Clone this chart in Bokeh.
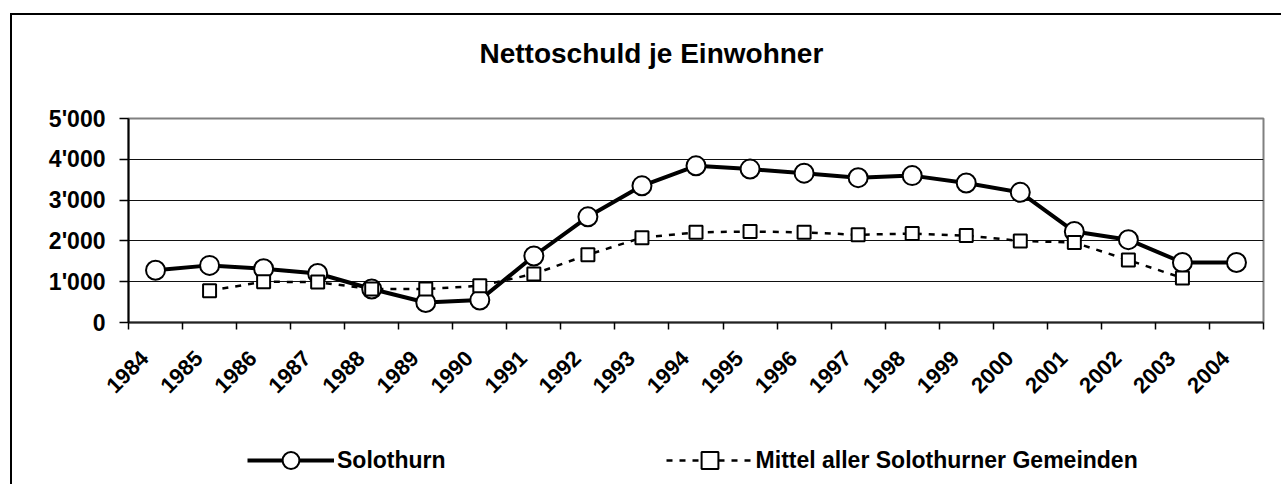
import math
from bokeh.plotting import figure
from bokeh.layouts import column
from bokeh.models import FixedTicker, Legend, LegendItem, Range1d, ColumnDataSource, Title
from bokeh.embed import file_html
from bokeh.resources import INLINE

# ---- data ----
years = ["1984", "1985", "1986", "1987", "1988", "1989", "1990", "1991", "1992", "1993", "1994",
         "1995", "1996", "1997", "1998", "1999", "2000", "2001", "2002", "2003", "2004"]
solothurn = [1280, 1400, 1320, 1200, 820, 490, 550, 1630, 2590, 3350, 3840,
             3760, 3660, 3550, 3600, 3420, 3190, 2230, 2030, 1470, 1470]
mittel = [float("nan"), 780, 1000, 990, 820, 820, 900, 1190, 1660, 2080, 2210,
          2230, 2210, 2150, 2180, 2130, 2000, 1960, 1530, 1090, float("nan")]
y_ticks = [0, 1000, 2000, 3000, 4000, 5000]
y_tick_labels = ["0", "1'000", "2'000", "3'000", "4'000", "5'000"]
title_text = "Nettoschuld je Einwohner"
series_names = ["Solothurn", "Mittel aller Solothurner Gemeinden"]

FONT = "Liberation Sans"
n = len(years)
xs = [i + 0.5 for i in range(n)]
label_pos = [i + 0.3 for i in range(n)]

src = ColumnDataSource(dict(x=xs, s=solothurn, m=mittel))

W = 1269
p = figure(width=W, height=395, output_backend="svg", toolbar_location=None,
           x_range=Range1d(0, n), y_range=Range1d(0, 5000),
           min_border_left=116, min_border_right=18, min_border_top=103, min_border_bottom=88)

p.background_fill_color = "white"
p.border_fill_color = "white"
p.outline_line_color = "#808080"
p.outline_line_width = 2

# title (spacer title sits between the frame and the main title)
spacer = Title(text=" ", text_font=FONT, text_font_size="28px", standoff=12)
main_title = Title(text=title_text, text_font=FONT, text_font_size="28px",
                   text_font_style="bold", text_color="black", align="left", offset=351,
                   standoff=10)
p.add_layout(spacer, "above")
p.add_layout(main_title, "above")

# y axis
ya = p.yaxis[0]
ya.ticker = FixedTicker(ticks=y_ticks)
ya.major_label_overrides = dict(zip(y_ticks, y_tick_labels))
ya.major_tick_out = 9
ya.major_tick_in = 0
ya.minor_tick_out = 0
ya.minor_tick_in = 0
ya.major_tick_line_color = "black"
ya.major_tick_line_width = 1.5
ya.axis_line_color = "black"
ya.axis_line_width = 2
ya.major_label_standoff = 14
ya.major_label_text_font = FONT
ya.major_label_text_font_size = "23px"
ya.major_label_text_font_style = "bold"
ya.major_label_text_color = "black"

# x axis
xa = p.xaxis[0]
xa.ticker = FixedTicker(ticks=label_pos, minor_ticks=list(range(n + 1)))
xa.major_label_overrides = dict(zip(label_pos, years))
xa.major_tick_line_color = None
xa.major_tick_out = 0
xa.major_tick_in = 0
xa.minor_tick_out = 7
xa.minor_tick_in = 0
xa.minor_tick_line_color = "black"
xa.minor_tick_line_width = 1.5
xa.axis_line_color = "#222222"
xa.axis_line_width = 2
xa.major_label_orientation = math.pi / 4
xa.major_label_standoff = 25
xa.major_label_text_font = FONT
xa.major_label_text_font_size = "22px"
xa.major_label_text_font_style = "bold"
xa.major_label_text_color = "black"

p.xgrid.visible = False
p.ygrid.grid_line_color = "#111111"
p.ygrid.grid_line_width = 1

line_main = dict(line_color="black", line_width=4)
line_mean = dict(line_color="black", line_width=2.5, line_dash="6 7")
mark_main = dict(marker="circle", size=19, fill_color="white", line_color="black", line_width=2)
mark_mean = dict(marker="square", size=13, fill_color="white", line_color="black", line_width=2)

# series
p.line("x", "s", source=src, **line_main)
p.line("x", "m", source=src, **line_mean)
p.scatter("x", "s", source=src, **mark_main)
p.scatter("x", "m", source=src, **mark_mean)

# legend strip below the chart (same series, legend only; data lie outside its view)
q = figure(width=W, height=74, output_backend="svg", toolbar_location=None,
           x_range=Range1d(-10, -9), y_range=Range1d(-10, -9),
           x_axis_type=None, y_axis_type=None,
           min_border_left=0, min_border_right=0, min_border_top=0, min_border_bottom=0)
q.outline_line_color = None
q.xgrid.visible = False
q.ygrid.visible = False
q.background_fill_color = "white"
q.border_fill_color = "white"
ql1 = q.line("x", "s", source=src, **line_main)
qs1 = q.scatter("x", "s", source=src, **mark_main)
ql2 = q.line("x", "m", source=src, **line_mean)
qs2 = q.scatter("x", "m", source=src, **mark_mean)

legend = Legend(items=[LegendItem(label=series_names[0], renderers=[ql1, qs1]),
                       LegendItem(label=series_names[1], renderers=[ql2, qs2])],
                orientation="horizontal", location=(119, 3),
                glyph_width=87, glyph_height=42, label_standoff=3, spacing=220,
                border_line_color=None, background_fill_alpha=0, padding=0, margin=0,
                label_text_font=FONT, label_text_font_size="23px",
                label_text_font_style="bold", label_text_color="black")
q.add_layout(legend, "center")

layout = column(p, q, spacing=0)
layout.styles = {"margin-left": "10px", "margin-top": "13px",
                 "border-left": "2px solid #000", "border-top": "2px solid #000"}

open("out.html", "w").write(file_html(layout, INLINE))
